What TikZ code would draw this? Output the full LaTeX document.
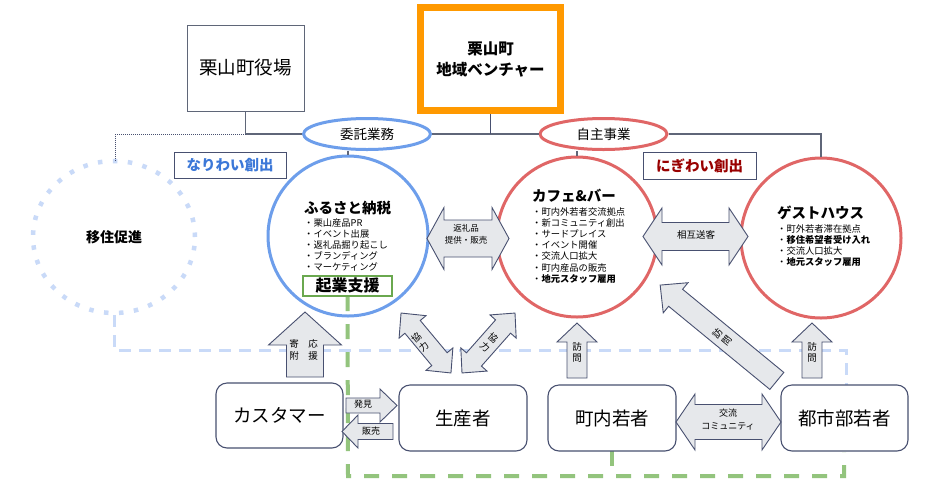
\documentclass[tikz,border=0pt]{standalone}
\usepackage{fontspec}
\setmainfont{Noto Sans CJK JP}
\usetikzlibrary{shapes.geometric}
\definecolor{blueC}{HTML}{6D9EEB}
\definecolor{redC}{HTML}{E06666}
\definecolor{greenC}{HTML}{93C47D}
\definecolor{greenB}{HTML}{6AA84F}
\definecolor{lblue}{HTML}{C9DAF8}
\definecolor{orangeC}{HTML}{FF9900}
\definecolor{navy}{HTML}{485070}
\definecolor{linec}{HTML}{5F6678}
\definecolor{afill}{HTML}{E6E8EB}
\definecolor{nari}{HTML}{3C78D8}
\definecolor{nigi}{HTML}{990000}
\tikzset{
  blockarr/.style={draw=navy, fill=afill, line width=0.9pt, line join=miter},
  conn/.style={draw=linec, line width=1.1pt},
  plainbox/.style={draw=linec, line width=0.9pt, fill=white, inner sep=0},
  rbox/.style={draw=navy, line width=1.1pt, rounded corners=11pt, fill=white, minimum width=127pt, minimum height=65pt, inner sep=0, font=\fontsize{18.5}{22}\selectfont},
  lbox/.style={draw=navy, line width=0.9pt, fill=white, minimum width=112pt, minimum height=26pt, inner sep=0, font=\bfseries\fontsize{14.5}{17}\selectfont},
  bigcirc/.style={circle, line width=3pt, minimum size=160pt, fill=white, inner sep=0},
  oval/.style={ellipse, line width=3pt, minimum width=127pt, minimum height=31pt, inner sep=0, fill=white, font=\fontsize{13.5}{16}\selectfont},
  ttl/.style={font=\bfseries\fontsize{14.5}{17}\selectfont, inner sep=0, anchor=west, text height=12pt, text depth=2pt},
  bul/.style={font=\fontsize{9.3}{11}\selectfont, inner sep=0, anchor=west, text height=7.6pt, text depth=1.4pt},
  alab/.style={font=\fontsize{9}{11.5}\selectfont, align=center, inner sep=0},
  lbdash/.style={draw=lblue, line width=3pt, dash pattern=on 12pt off 8pt},
  gdash/.style={draw=greenC, line width=4pt, dash pattern=on 15pt off 13pt},
}
\newcommand\SArrow[6]{%
  \begin{scope}[shift={(#1)},rotate=#2]
  \draw[blockarr] (-#3,-#4) -- ({#3-#6},-#4) -- ({#3-#6},-#5) -- (#3,0) -- ({#3-#6},#5) -- ({#3-#6},#4) -- (-#3,#4) -- cycle;
  \end{scope}}
\newcommand\DArrow[6]{%
  \begin{scope}[shift={(#1)},rotate=#2]
  \draw[blockarr] (-#3,0) -- ({-#3+#6},-#5) -- ({-#3+#6},-#4) -- ({#3-#6},-#4) -- ({#3-#6},-#5) -- (#3,0) -- ({#3-#6},#5) -- ({#3-#6},#4) -- ({-#3+#6},#4) -- ({-#3+#6},#5) -- cycle;
  \end{scope}}
\begin{document}
\begin{tikzpicture}[x=1pt,y=-1pt]
\useasboundingbox (0,0) rectangle (940,491);
\fill[white] (0,0) rectangle (940,491);

% migration dotted ellipse
\node[ellipse, draw=lblue, line width=4.5pt, dash pattern=on 4.5pt off 10.5pt, minimum width=162pt, minimum height=152pt, font=\bfseries\fontsize{14}{16}\selectfont] (iju) at (114,237) {移住促進};

% top boxes
\node[plainbox, minimum width=117pt, minimum height=86pt, font=\fontsize{18.5}{22}\selectfont] (yakuba) at (245.5,68) {栗山町役場};
\node[draw=orangeC, line width=7pt, fill=white, minimum width=140pt, minimum height=103pt, align=center, inner sep=0, font=\bfseries\fontsize{15.5}{21}\selectfont] (venture) at (490.5,59) {栗山町\\地域ベンチャー};

% ovals
\node[oval, draw=blueC] (itaku) at (367,134) {委託業務};
\node[oval, draw=redC] (jishu) at (603.5,134) {自主事業};

% connectors
\coordinate (dc) at (115,134);
\coordinate (de) at (115,160);
\draw[conn] (yakuba.south) -- (yakuba.south |- itaku.west) -- (itaku.west);
\draw[draw=navy, line width=1pt, densely dotted] (yakuba.south |- itaku.west) -- (dc) -- (de);
\draw[conn] (itaku.east) -- (jishu.west);
\draw[draw=navy, line width=1.6pt] (venture.south) -- (venture.south |- itaku.east);

% circles
\node[bigcirc, draw=blueC] (furusato) at (348,236) {};
\node[bigcirc, draw=redC] (cafe) at (577,237) {};
\node[bigcirc, draw=redC] (guest) at (821,238) {};
\draw[conn] (jishu.east) -| (guest.north);
\draw[conn] (furusato.north) -- (furusato.north |- itaku.south);
\draw[conn] (cafe.north) -- (cafe.north |- jishu.south);

% label boxes
\node[lbox, text=nari] (nariwai) at (230,165) {なりわい創出};
\node[lbox, text=nigi, minimum width=113pt, minimum height=27pt] (nigiwai) at (699.5,165.5) {にぎわい創出};

% dashed lines
\coordinate (lb1) at (114,350);
\coordinate (lb2) at (846,350);
\coordinate (lb3) at (846,386);
\coordinate (g1) at (348,476);
\coordinate (g2) at (844,476);
\coordinate (g3) at (844,452);
\coordinate (g4) at (612,476);
\draw[lbdash] (iju.south) -- (lb1) -- (lb2) -- (lb3);
\draw[gdash] (347.5,296) -- (g1) -- (g2) -- (g3);
\draw[gdash] (612,451) -- (g4);

% bottom boxes
\node[rbox] (customer) at (279.5,415.5) {カスタマー};
\node[rbox, minimum width=128pt, minimum height=66pt] (producer) at (463,418) {生産者};
\node[rbox, minimum width=128pt, minimum height=66pt] (chonai) at (612,418) {町内若者};
\node[rbox, minimum width=127pt, minimum height=66pt] (tokai) at (844.5,418) {都市部若者};

% kigyo box
\node[draw=greenB, line width=2.5pt, fill=white, minimum width=89pt, minimum height=20pt, inner sep=0, font=\bfseries\fontsize{16}{18}\selectfont] (kigyo) at (347.5,286) {起業支援};

% circle texts
\node[ttl] (furuT) at (304,208) {ふるさと納税};
\foreach \t [count=\i] in {栗山産品PR,イベント出展,返礼品掘り起こし,ブランディング,マーケティング}
  \node[bul] (fb\i) at (304,{223+11.2*(\i-1)}) {・\t};
\node[ttl] (cafeT) at (532,196) {カフェ\&バー};
\foreach \t [count=\i] in {町内外若者交流拠点,新コミュニティ創出,サードプレイス,イベント開催,交流人口拡大,町内産品の販売,{\bfseries 地元スタッフ雇用}}
  \node[bul] (cb\i) at (532,{212+11.2*(\i-1)}) {・\t};
\node[ttl] (guestT) at (777,213) {ゲストハウス};
\foreach \t [count=\i] in {町外若者滞在拠点,{\bfseries 移住希望者受け入れ},交流人口拡大,{\bfseries 地元スタッフ雇用}}
  \node[bul] (gb\i) at (777,{229+11*(\i-1)}) {・\t};

% block arrows
\DArrow{468,238.5}{0}{41}{18.5}{31}{17}
\DArrow{695.5,236.5}{0}{52.5}{14}{28.5}{19}
\SArrow{305,344.5}{90}{32.5}{18.5}{36.5}{33}
\DArrow{426,343}{129.8}{39}{10}{17.5}{18}
\DArrow{488.5,343}{48.5}{40}{10}{17.5}{18}
\SArrow{577,350.5}{90}{27.5}{10}{20}{19}
\SArrow{718.5,333}{140.6}{75.5}{11}{19.5}{20}
\SArrow{812,350.5}{90}{27.5}{10}{20}{19}
\SArrow{371.5,405.5}{0}{25.5}{7.5}{16.5}{17}
\SArrow{367.5,431.5}{180}{25.5}{8}{16.5}{16}
\DArrow{728.5,422}{0}{52.5}{17.5}{28}{19}

% arrow labels
\node[alab, font=\fontsize{8.5}{12}\selectfont] (henrei) at (466,234) {返礼品\\提供・販売};
\node[alab, font=\fontsize{9.5}{11}\selectfont] (sogo) at (696,235) {相互送客};
\node[alab, font=\fontsize{9}{13}\selectfont] (koryu) at (728,419.5) {交流\\コミュニティ};
\node[alab, font=\fontsize{9.5}{12}\selectfont] (kifu) at (294,349.5) {寄\\附};
\node[alab, font=\fontsize{9.5}{12}\selectfont] (oen) at (313,349.5) {応\\援};
\node[alab, font=\fontsize{9.5}{12}\selectfont, rotate=39.8] (kyo1) at (420,342) {協\\力};
\node[alab, font=\fontsize{9.5}{12}\selectfont, rotate=-41.5] (kyo2) at (489,342) {協\\力};
\node[alab, font=\fontsize{9.5}{11}\selectfont] (hom1) at (577,352) {訪\\問};
\node[alab, font=\fontsize{9.5}{11}\selectfont] (hom3) at (812,352) {訪\\問};
\node[alab, font=\fontsize{9.5}{12}\selectfont, rotate=50.6] (hom2) at (722,337) {訪\\問};
\node[alab, font=\fontsize{9}{11}\selectfont] (hakken) at (363,404) {発見};
\node[alab, font=\fontsize{9}{11}\selectfont] (hanbai) at (371,431) {販売};
\end{tikzpicture}
\end{document}
